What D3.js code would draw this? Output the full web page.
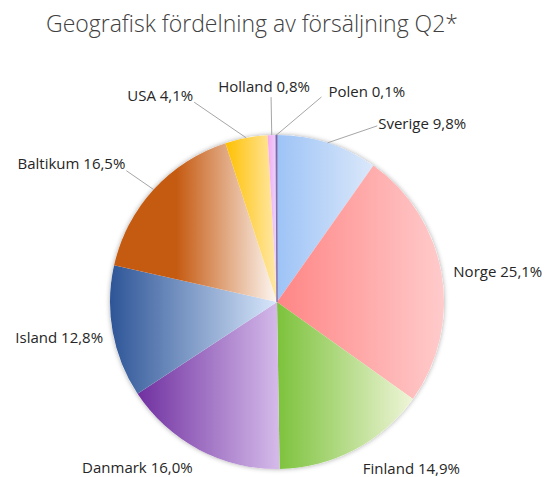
<!doctype html>
<html>
<head>
<meta charset="utf-8">
<script src="https://d3js.org/d3.v7.min.js"></script>
<style>
  body { margin: 0; background: #fff; }
  text { font-family: 'Open Sans', sans-serif; fill: #262626; }
</style>
</head>
<body>
<div id="chart"></div>
<script>
// data
var countries = ["Sverige", "Norge", "Finland", "Danmark", "Island", "Baltikum", "USA", "Holland", "Polen"];
var shares = [9.8, 25.1, 14.9, 16.0, 12.8, 16.5, 4.1, 0.8, 0.1];
var darkColors = ["#9dc3f6", "#ff8585", "#7cc23b", "#7030a0", "#2e5597", "#c55a11", "#ffc000", "#f6a8f0", "#8064a2"];
var lightColors = ["#dbe8fa", "#ffcbcb", "#eff5d8", "#d5bbea", "#d8e7fb", "#fdf7f2", "#ffe9aa", "#e8d8fc", "#8064a2"];
var darkStop = [0, 0, 0, 0, 0, 0.38, 0, 0, 0];

// label placement: nudge from radial point, text offset from line end
var labelLayout = [
  {dx: 43, dy: 4, tx: 1, ty: -2, anchor: "start", line: true},
  {dx: -10, dy: 1, tx: 0, ty: 0, anchor: "start", line: false},
  {dx: -2, dy: -1, tx: 0, ty: 0, anchor: "start", line: false},
  {dx: 4, dy: -1, tx: 0, ty: 0, anchor: "end", line: false},
  {dx: 12, dy: 2, tx: 0, ty: 0, anchor: "end", line: false},
  {dx: -11, dy: -4, tx: -1, ty: -7, anchor: "end", line: true},
  {dx: -48, dy: -14, tx: -1, ty: -6, anchor: "end", line: true},
  {dx: 0, dy: -16, tx: -7, ty: -10, anchor: "middle", line: true},
  {dx: 45, dy: -16, tx: 7, ty: -5, anchor: "start", line: true}
];

var width = 550, height = 477;
var cx = 277, cy = 302, radius = 167;

var data = countries.map(function (c, i) {
  return {name: c, value: shares[i], i: i};
});

var svg = d3.select("#chart").append("svg")
  .attr("width", width)
  .attr("height", height);

var defs = svg.append("defs");

var shadow = defs.append("filter").attr("id", "shadow")
  .attr("x", "-10%").attr("y", "-10%").attr("width", "120%").attr("height", "120%");
shadow.append("feDropShadow")
  .attr("dx", 0).attr("dy", 0).attr("stdDeviation", 2.5)
  .attr("flood-color", "#000").attr("flood-opacity", 0.35);

data.forEach(function (d, i) {
  var g = defs.append("linearGradient").attr("id", "grad" + i)
    .attr("x1", "0%").attr("y1", "0%").attr("x2", "100%").attr("y2", "0%");
  g.append("stop").attr("offset", 0).attr("stop-color", darkColors[i]);
  g.append("stop").attr("offset", darkStop[i]).attr("stop-color", darkColors[i]);
  g.append("stop").attr("offset", 1).attr("stop-color", lightColors[i]);
});

// title
svg.append("text")
  .attr("x", 252)
  .attr("y", 32)
  .attr("text-anchor", "middle")
  .style("font-size", "23px")
  .style("font-weight", 300)
  .style("fill", "#404040")
  .text("Geografisk fördelning av försäljning Q2*");

var pie = d3.pie().sort(null).value(function (d) { return d.value; });
var arc = d3.arc().innerRadius(0).outerRadius(radius);
var arcs = pie(data);

var g = svg.append("g").attr("transform", "translate(" + cx + "," + cy + ")");

// shadow disc under the slices
g.append("circle").attr("r", radius).attr("fill", "#fff").attr("filter", "url(#shadow)");

g.selectAll("path.slice")
  .data(arcs)
  .enter()
  .append("path")
  .attr("class", "slice")
  .attr("d", arc)
  .attr("fill", function (d) { return "url(#grad" + d.data.i + ")"; })
  .attr("stroke", function (d) { return d.data.i === 8 ? darkColors[8] : "none"; })
  .attr("stroke-width", 0.8);

function polar(angle, r) {
  return [Math.sin(angle) * r, -Math.cos(angle) * r];
}

arcs.forEach(function (d, i) {
  var mid = (d.startAngle + d.endAngle) / 2;
  var lay = labelLayout[i];
  var edge = polar(mid, radius);
  var base = polar(mid, radius + 22);
  var end = [base[0] + lay.dx, base[1] + lay.dy];
  if (lay.line) {
    g.append("line")
      .attr("x1", edge[0]).attr("y1", edge[1])
      .attr("x2", end[0]).attr("y2", end[1])
      .attr("stroke", "#a6a6a6")
      .attr("stroke-width", 1);
  }
  g.append("text")
    .attr("x", end[0] + lay.tx)
    .attr("y", end[1] + lay.ty)
    .attr("dy", "0.35em")
    .attr("text-anchor", lay.anchor)
    .style("font-size", "15px")
    .text(d.data.name + " " + d3.format(".1f")(d.data.value).replace(".", ",") + "%");
});
</script>
</body>
</html>
